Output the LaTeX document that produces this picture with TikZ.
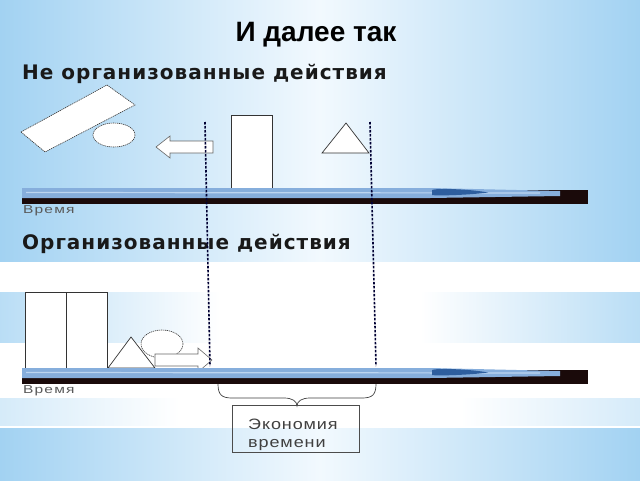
\documentclass[tikz,border=0pt]{standalone}
\usepackage{fontspec}
\setmainfont{Liberation Sans}
\newfontfamily\headfont[LetterSpace=5]{DejaVu Sans}
\newfontfamily\thinfont[FakeStretch=1.35, LetterSpace=10]{Liberation Sans}
\newfontfamily\boxfont[FakeStretch=1.2, LetterSpace=6]{Liberation Sans}
\definecolor{bgedge}{HTML}{A2D2F2}
\definecolor{bgmid}{HTML}{F2F9FE}
\definecolor{barblue}{HTML}{86AEDC}
\definecolor{barlight}{HTML}{BCD5F0}
\definecolor{bardark}{HTML}{2E5E9E}
\definecolor{barblack}{HTML}{1A0A0A}
\newcommand\mytimebar{%
  \fill[barblack] (22,190) rectangle (588,204);
  \fill[barblue] (22,188) -- (430,188) -- (560,191) -- (560,196) -- (430,198) -- (22,198) -- cycle;
  \draw[barlight, line width=1.2pt] (26,192.5) -- (540,193);
  \fill[bardark] (432,190) .. controls (436,188) and (470,189) .. (488,192.5) .. controls (470,195) and (436,196) .. (432,195) -- cycle;
}
\tikzset{
  shp/.style={draw=black!80, fill=white, line width=0.7pt},
  dshp/.style={draw=black!80, fill=white, line width=0.6pt, dash pattern=on 1.2pt off 0.8pt},
  vline/.style={draw=black!80!blue, line width=1.6pt, dash pattern=on 2.5pt off 1.5pt},
  blockarrow/.style={draw=black!60, fill=white, line width=0.6pt},
  heading/.style={anchor=base west, inner sep=0pt, font=\headfont\bfseries\fontsize{20}{24}\selectfont, text=black!90},
  timelbl/.style={anchor=base west, inner sep=0pt, font=\thinfont\fontsize{11.5}{14}\selectfont, text=black!65},
  boxtext/.style={anchor=base west, inner sep=0pt, align=left, font=\boxfont\fontsize{15}{18}\selectfont, text=black!75},
}
\begin{document}
\begin{tikzpicture}[x=1pt,y=-1pt]
\useasboundingbox (0,0) rectangle (640,480);
% background
\fill[left color=bgedge, right color=bgedge, middle color=bgmid] (0,0) rectangle (640,262);
\fill[white] (0,262) rectangle (640,428);
\fill[left color=bgedge!75, right color=white] (0,292) rectangle (220,342);
\fill[left color=white, right color=bgedge!75] (420,292) rectangle (640,342);
\fill[left color=bgedge!45, right color=white] (0,398) rectangle (180,425);
\fill[left color=white, right color=bgedge!45] (460,398) rectangle (640,425);
\fill[left color=bgedge, right color=bgedge, middle color=bgmid] (0,428) rectangle (640,480);

% title and headings
\node[anchor=base, inner sep=0pt, font=\bfseries\fontsize{28}{32}\selectfont] (title) at (316,41) {И далее так};
\node[heading] (h1) at (22,79) {Не организованные действия};
\node[heading] (h2) at (22,249) {Организованные действия};

% upper shapes
\draw[dshp] (21,132) -- (107,85) -- (135,105) -- (45,152) -- cycle;
\draw[dshp] (114,135) ellipse [x radius=21, y radius=12];
\draw[blockarrow] (156,147) -- (170,136) -- (170,141) -- (213,141) -- (213,153) -- (170,153) -- (170,158) -- cycle;
\draw[shp] (231,115) rectangle (272,190);
\draw[shp] (346,123) -- (369,153) -- (322,153) -- cycle;
\mytimebar
\node[timelbl] (t1) at (23,213) {Время};

% lower shapes
\draw[shp] (25,292) rectangle (66,368);
\draw[shp] (66,292) rectangle (107,368);
\draw[shp] (131,337) -- (155,368) -- (108,368) -- cycle;
\draw[dshp] (162,344) ellipse [x radius=21, y radius=14];
\draw[blockarrow] (155,354) -- (198,354) -- (198,348) -- (212,360) -- (198,372) -- (198,366) -- (155,366) -- cycle;
\begin{scope}[shift={(0,180)}]
\mytimebar
\end{scope}
\node[timelbl] (t2) at (23,393) {Время};

% dotted guide lines
\coordinate (d1t) at (205,122);
\coordinate (d1b) at (210,366);
\coordinate (d2t) at (370,122);
\coordinate (d2b) at (376,366);
\draw[vline] (d1t) -- (d1b);
\draw[vline] (d2t) -- (d2b);

% brace
\coordinate (bl) at (218,384);
\coordinate (br) at (376,384);
\coordinate (bt) at (297,406);
\draw[draw=black!75, line width=0.7pt] (bl) .. controls (218,395) and (222,398) .. (232,398) -- (284,398) .. controls (292,398) and (297,401) .. (bt) .. controls (297,401) and (302,398) .. (310,398) -- (362,398) .. controls (372,398) and (376,395) .. (br);

% saving box
\node[draw=black!70, line width=0.7pt, minimum width=127pt, minimum height=47pt, inner sep=0pt] (box) at (295.5,428.5) {};
\node[boxtext] (boxtxt) at (248,447) {Экономия\\времени};
\end{tikzpicture}
\end{document}
